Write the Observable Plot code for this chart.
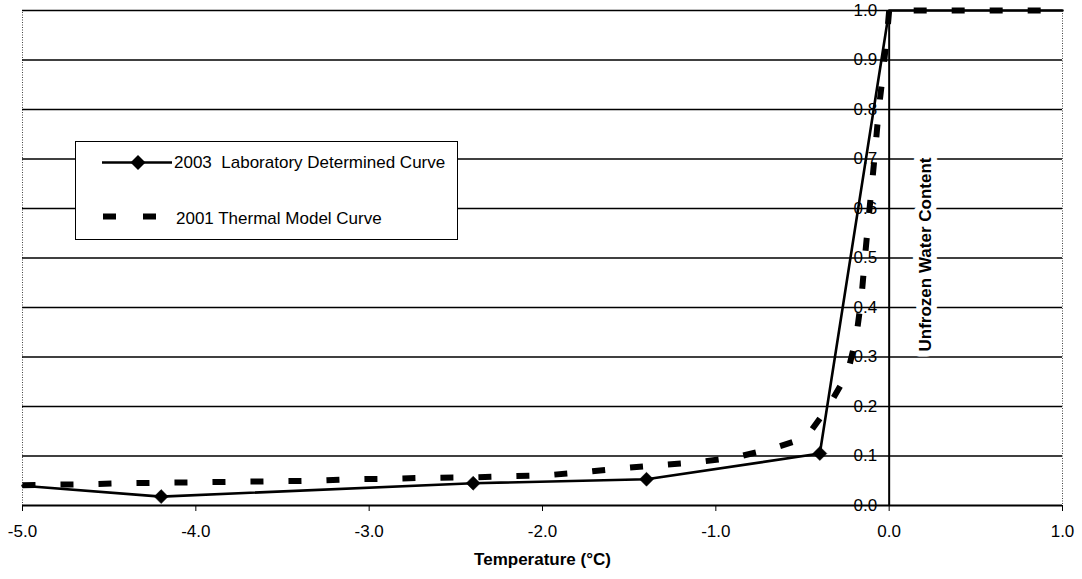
<!DOCTYPE html>
<html>
<head>
<meta charset="utf-8">
<script src="https://cdn.jsdelivr.net/npm/d3@7"></script>
<script src="https://cdn.jsdelivr.net/npm/@observablehq/plot@0.6"></script>
<style>
  html, body { margin: 0; padding: 0; background: white; }
  #wrap { position: relative; width: 1082px; height: 579px; font-family: "Liberation Sans", Arial, sans-serif; }
  #legend { position: absolute; left: 75px; top: 141px; width: 381px; height: 97px; border: 1.5px solid black; background: white; }
  #legend svg { position: absolute; left: 0; top: 0; }
  #legend text { white-space: pre; }
</style>
</head>
<body>
<div id="wrap"></div>
<script>
// ---- data ----
const xTicks = [-5, -4, -3, -2, -1, 0, 1];
const yTicks = [0.0, 0.1, 0.2, 0.3, 0.4, 0.5, 0.6, 0.7, 0.8, 0.9, 1.0];

// 2003 Laboratory Determined Curve
const labTemp  = [-5.0, -4.2, -2.4, -1.4, -0.4, 0.0, 1.0];
const labWater = [0.040, 0.018, 0.045, 0.053, 0.105, 1.0, 1.0];

// 2001 Thermal Model Curve
const modelTemp  = [-5.0, -4.86, -4.63, -4.42, -4.2, -3.97, -3.76, -3.53, -3.31, -3.09, -2.89, -2.65, -2.4, -2.2, -1.98, -1.77, -1.55, -1.34, -1.12, -0.89, -0.675, -0.48, -0.35, -0.24, -0.19, -0.16, -0.14, -0.12, -0.10, -0.08, -0.06, -0.035, -0.01, 0.0, 1.0];
const modelWater = [0.041, 0.042, 0.043, 0.045, 0.046, 0.047, 0.048, 0.049, 0.050, 0.053, 0.054, 0.056, 0.057, 0.059, 0.061, 0.067, 0.075, 0.081, 0.087, 0.097, 0.115, 0.137, 0.200, 0.267, 0.340, 0.420, 0.500, 0.576, 0.646, 0.720, 0.800, 0.875, 0.960, 1.0, 1.0];

const xTitle = "Temperature (°C)";
const yTitle = "Unfrozen Water Content";
const labName = "2003  Laboratory Determined Curve";
const modelName = "2001 Thermal Model Curve";

const lab = labTemp.map((t, i) => ({t, w: labWater[i]}));
const model = modelTemp.map((t, i) => ({t, w: modelWater[i]}));
const labMarkers = lab.filter(d => d.t > -5 && d.t < 0);

const fmt = d => d.toFixed(1);

const chart = Plot.plot({
  width: 1082,
  height: 579,
  marginLeft: 22,
  marginRight: 20,
  marginTop: 10,
  marginBottom: 74,
  style: {fontFamily: '"Liberation Sans", Arial, sans-serif', fontSize: "17px", background: "white", color: "black"},
  x: {domain: [-5, 1], axis: null},
  y: {domain: [0, 1], axis: null},
  marks: [
    Plot.frame({stroke: "#444", strokeDasharray: "1,1.5", strokeWidth: 1}),
    Plot.ruleY(yTicks.filter(d => d > 0), {stroke: "black", strokeWidth: 1.5}),
    Plot.ruleY([0], {stroke: "black", strokeWidth: 2}),
    Plot.ruleX([0], {y1: 0, y2: 1, stroke: "black", strokeWidth: 2}),
    Plot.axisX({ticks: xTicks, tickFormat: fmt, tickSize: 6, tickPadding: 13, fontSize: 17, label: null}),
    Plot.text(yTicks, {x: () => 0, y: d => d, text: fmt, textAnchor: "end", dx: -12, fontSize: 17}),
    Plot.line(model, {x: "t", y: "w", stroke: "black", strokeWidth: 6, strokeDasharray: "13 25", strokeLinecap: "butt"}),
    Plot.line(lab, {x: "t", y: "w", stroke: "black", strokeWidth: 2.6}),
    Plot.dot(labMarkers, {x: "t", y: "w", symbol: "diamond2", r: 6.3, fill: "black", stroke: "black", strokeWidth: 0.5}),
    Plot.text([yTitle], {x: () => 0, y: () => 0.5, text: d => d, rotate: -90, dx: 36, dy: -3.5, fontWeight: "bold", fontSize: 17, stroke: "white", strokeWidth: 12, fill: "black"}),
    Plot.text([xTitle], {frameAnchor: "bottom", text: d => d, dy: 59, fontWeight: "bold", fontSize: 17})
  ]
});

const wrap = document.getElementById("wrap");
wrap.appendChild(chart);

// legend
const legend = document.createElement("div");
legend.id = "legend";
legend.innerHTML = `
<svg width="381" height="97" xmlns="http://www.w3.org/2000/svg" font-family="Liberation Sans, Arial, sans-serif" font-size="17">
  <line x1="26" x2="96" y1="20.5" y2="20.5" stroke="black" stroke-width="2.6"/>
  <path d="M62,13 L69.5,20.5 L62,28 L54.5,20.5 Z" fill="black"/>
  <text x="98" y="20.5" dominant-baseline="central" xml:space="preserve">${labName}</text>
  <line x1="27" x2="80" y1="74.5" y2="74.5" stroke="black" stroke-width="6" stroke-dasharray="13 27"/>
  <text x="100" y="76" dominant-baseline="central">${modelName}</text>
</svg>`;
wrap.appendChild(legend);
</script>
</body>
</html>
